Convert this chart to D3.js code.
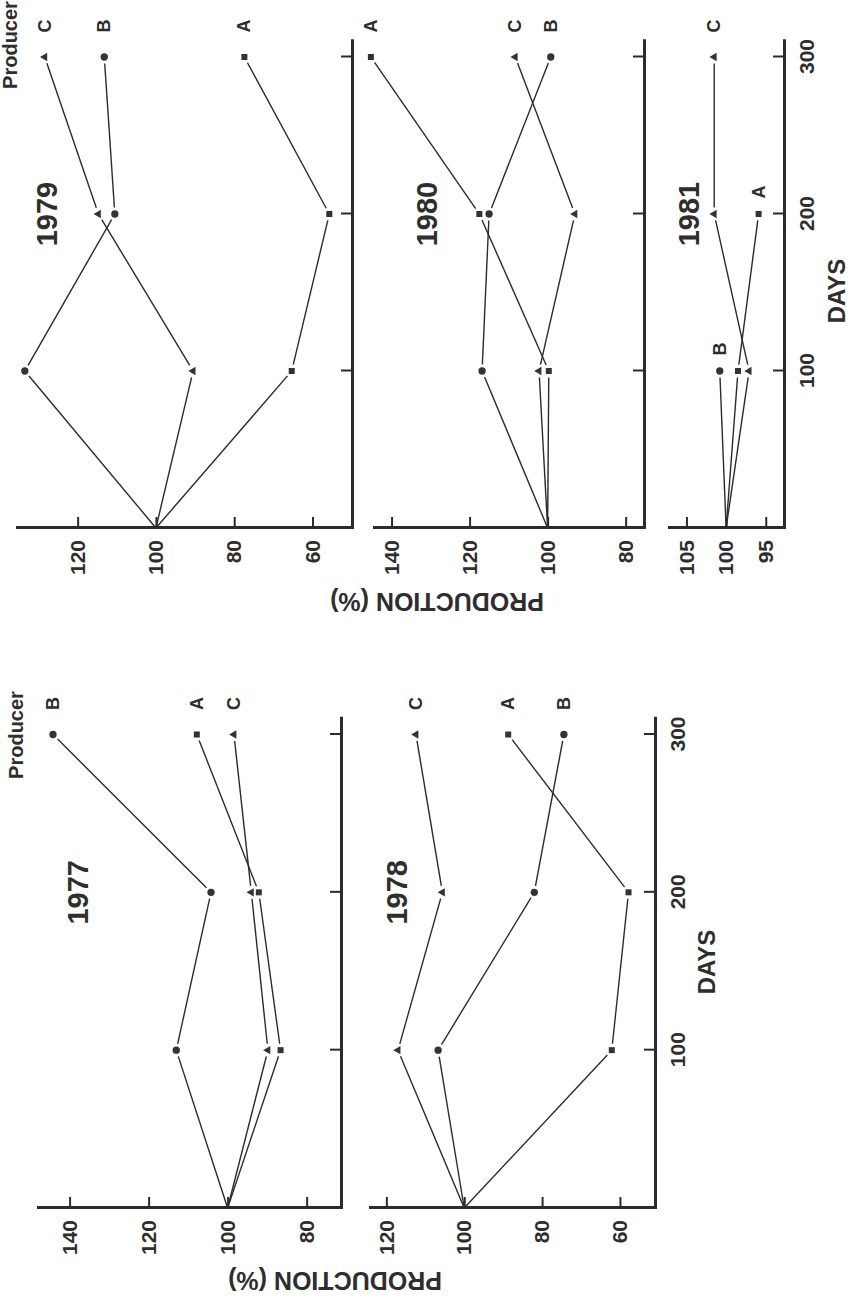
<!DOCTYPE html>
<html>
<head>
<meta charset="utf-8">
<script src="https://cdn.jsdelivr.net/npm/d3@7"></script>
<style>
  html, body { margin: 0; padding: 0; background: #fff; }
  svg { display: block; }
  text { font-family: "Liberation Sans", Arial, Helvetica, sans-serif; font-weight: bold; fill: #2e2e2e; }
</style>
</head>
<body>
<script>
// ---- data: production (% of day-0 level) per producer, sampled on these days ----
const days = [0, 100, 200, 300];
const producers = ["A", "B", "C"];
const years = ["1977", "1978", "1979", "1980", "1981"];

// rows follow `producers`; a shorter row stops at the last day sampled
const values1977 = [[100, 86.6, 92.1, 107.8], [100, 113.0, 104.2, 144.2], [100, 89.8, 94.0, 98.4]];
const values1978 = [[100, 62.1, 57.8, 88.7], [100, 106.7, 82.0, 74.4], [100, 117.0, 105.6, 112.4]];
const values1979 = [[100, 65.3, 55.7, 77.4], [100, 133.5, 110.5, 113.2], [100, 90.5, 114.7, 128.4]];
const values1980 = [[100, 99.7, 117.5, 145.3], [100, 116.8, 115.0, 99.2], [100, 102.2, 93.0, 108.3]];
const values1981 = [[100, 98.5, 95.9], [100, 100.8], [100, 97.1, 101.5, 101.5]];

const dayTicks = [100, 200, 300];
const prodTicks1977 = [80, 100, 120, 140];
const prodTicks1978 = [60, 80, 100, 120];
const prodTicks1979 = [60, 80, 100, 120];
const prodTicks1980 = [80, 100, 120, 140];
const prodTicks1981 = [95, 100, 105];

// ---- layout (drawn in landscape, then the whole figure is turned a quarter turn) ----
const W = 852, H = 1299;
const columns = {
  left:  { x0: 91,  x300: 564.5, daysTitle: [337, 715],  prodTitle: [27, 335],  producer: [564, 23] },
  right: { x0: 771, x300: 1242,  daysTitle: [1008, 845], prodTitle: [706, 437], producer: [1254, 17] }
};
const panels = [
  { year: years[0], col: "left",  values: values1977, ticks: prodTicks1977, top: 38,  bottom: 341, domain: [71.3, 148.0], titleY: 88,  dayLabels: false },
  { year: years[1], col: "left",  values: values1978, ticks: prodTicks1978, top: 370, bottom: 655, domain: [51.0, 124.2], titleY: 407, dayLabels: true  },
  { year: years[2], col: "right", values: values1979, ticks: prodTicks1979, top: 17,  bottom: 352, domain: [49.9, 135.5], titleY: 57,  dayLabels: false },
  { year: years[3], col: "right", values: values1980, ticks: prodTicks1980, top: 374, bottom: 644, domain: [75.3, 144.5], titleY: 437, dayLabels: false },
  { year: years[4], col: "right", values: values1981, ticks: prodTicks1981, top: 669, bottom: 784, domain: [92.7, 107.2], titleY: 699, dayLabels: true  }
];

const INK = "#2b2b2b";
const markerGap = 6.5;
const symbols = { A: d3.symbolSquare, B: d3.symbolCircle, C: d3.symbolTriangle };
const symbolSize = { A: 36, B: 42, C: 30 };

const svg = d3.select("body").append("svg")
  .attr("width", W).attr("height", H)
  .attr("viewBox", `0 0 ${W} ${H}`);

const g = svg.append("g").attr("transform", `translate(0,${H}) rotate(-90)`);

function styleAxis(sel, fontSize) {
  sel.attr("font-family", null).attr("font-size", null);
  sel.selectAll("text").attr("font-size", fontSize).style("fill", "#2e2e2e");
  sel.select(".domain").attr("stroke", INK).attr("stroke-width", 3).attr("stroke-linecap", "square");
  sel.selectAll(".tick line").attr("stroke", INK).attr("stroke-width", 2);
}

panels.forEach(p => {
  const c = columns[p.col];
  const k = (c.x300 - c.x0) / 300;
  const x = d3.scaleLinear().domain([0, 310]).range([c.x0, c.x0 + 310 * k]);
  const y = d3.scaleLinear().domain(p.domain).range([p.bottom, p.top]);
  const pg = g.append("g");

  // production axis (left)
  pg.append("g")
    .attr("transform", `translate(${x(0)},0)`)
    .call(d3.axisLeft(y).tickValues(p.ticks).tickSizeInner(-11).tickSizeOuter(0).tickPadding(12))
    .call(s => styleAxis(s, 21));

  // days axis (bottom)
  pg.append("g")
    .attr("transform", `translate(0,${p.bottom})`)
    .call(d3.axisBottom(x).tickValues(dayTicks).tickSizeInner(-11).tickSizeOuter(0).tickPadding(15)
      .tickFormat(d => p.dayLabels ? d : ""))
    .call(s => styleAxis(s, 21));

  // series lines, trimmed short of each marker
  producers.forEach((name, i) => {
    const vals = p.values[i];
    const pts = vals.map((v, j) => ({ day: days[j], px: x(days[j]), py: y(v) }));
    for (let j = 0; j < pts.length - 1; j++) {
      const a = pts[j], b = pts[j + 1];
      const dx = b.px - a.px, dy = b.py - a.py, len = Math.hypot(dx, dy);
      const ux = dx / len, uy = dy / len;
      const s0 = a.day > 0 ? markerGap : 0;
      const s1 = markerGap;
      pg.append("line")
        .attr("x1", a.px + ux * s0).attr("y1", a.py + uy * s0)
        .attr("x2", b.px - ux * s1).attr("y2", b.py - uy * s1)
        .attr("stroke", INK).attr("stroke-width", 1.4);
    }
    // markers on every sampled day after day 0
    pg.selectAll(null)
      .data(pts.filter(d => d.day > 0))
      .join("path")
      .attr("transform", d => `translate(${d.px},${d.py})`)
      .attr("d", d3.symbol().type(symbols[name]).size(symbolSize[name]))
      .attr("fill", "#333");

    // producer letter beyond the last point
    const last = pts[pts.length - 1];
    pg.append("text")
      .attr("x", last.px + (last.day === 300 ? 31 : 22))
      .attr("y", last.py)
      .attr("text-anchor", "middle")
      .attr("dominant-baseline", "central")
      .attr("font-size", 18)
      .text(name);
  });

  // year title
  pg.append("text")
    .attr("x", x(200)).attr("y", p.titleY)
    .attr("text-anchor", "middle")
    .attr("font-size", 29)
    .text(p.year);
});

// column titles
Object.values(columns).forEach(c => {
  g.append("text")
    .attr("x", c.daysTitle[0]).attr("y", c.daysTitle[1])
    .attr("text-anchor", "middle").attr("font-size", 24)
    .text("DAYS");
  g.append("text")
    .attr("transform", `translate(${c.prodTitle[0]},${c.prodTitle[1]}) rotate(-90)`)
    .attr("text-anchor", "middle").attr("font-size", 25)
    .text("PRODUCTION (%)");
  g.append("text")
    .attr("x", c.producer[0]).attr("y", c.producer[1])
    .attr("text-anchor", "middle").attr("font-size", 20)
    .text("Producer");
});
</script>
</body>
</html>
